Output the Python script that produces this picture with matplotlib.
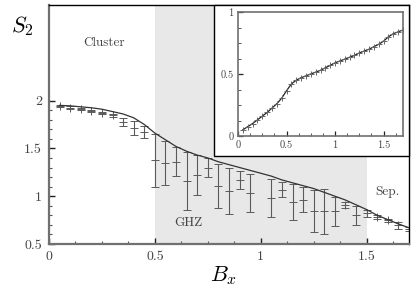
import numpy as np
import matplotlib
matplotlib.use('Agg')
from matplotlib import pyplot as plt
from matplotlib.ticker import MultipleLocator
from matplotlib.patches import Rectangle

plt.rcParams['font.family'] = ['cmr10', 'DejaVu Serif']
plt.rcParams['mathtext.fontset'] = 'cm'
plt.rcParams['axes.formatter.use_mathtext'] = True

# main panel: simulated points with error bars
bx_pts = [0.05, 0.1, 0.15, 0.2, 0.25, 0.3, 0.35, 0.4, 0.45, 0.5,
          0.55, 0.6, 0.65, 0.7, 0.75, 0.8, 0.85, 0.9, 0.95,
          1.05, 1.1, 1.15, 1.2, 1.25, 1.3, 1.35, 1.4, 1.45, 1.5,
          1.55, 1.6, 1.65, 1.7]
s2_pts = [1.94, 1.925, 1.91, 1.895, 1.87, 1.845, 1.775, 1.715, 1.67, 1.375,
          1.35, 1.36, 1.16, 1.225, 1.30, 1.11, 1.055, 1.17, 1.035,
          0.98, 1.07, 0.94, 0.965, 0.85, 0.84, 0.84, 0.905, 0.80, 0.82,
          0.785, 0.75, 0.695, 0.66]
s2_err = [0.01, 0.015, 0.01, 0.01, 0.015, 0.02, 0.045, 0.07, 0.06, 0.28,
          0.23, 0.15, 0.30, 0.21, 0.10, 0.23, 0.24, 0.09, 0.20,
          0.20, 0.08, 0.19, 0.13, 0.22, 0.24, 0.15, 0.03, 0.10, 0.04,
          0.02, 0.015, 0.035, 0.02]

# main panel: exact curve
bx_line = [0.05, 0.1, 0.15, 0.2, 0.25, 0.3, 0.35, 0.4, 0.45, 0.5,
           0.55, 0.6, 0.65, 0.7, 0.75, 0.8, 0.85, 0.9, 0.95, 1.0,
           1.05, 1.1, 1.15, 1.2, 1.25, 1.3, 1.35, 1.4, 1.45, 1.5,
           1.55, 1.6, 1.65, 1.7]
s2_line = [1.95, 1.945, 1.935, 1.925, 1.91, 1.885, 1.86, 1.82, 1.75, 1.66,
           1.59, 1.52, 1.47, 1.43, 1.40, 1.36, 1.33, 1.30, 1.27, 1.24,
           1.21, 1.17, 1.14, 1.11, 1.08, 1.04, 1.00, 0.96, 0.91, 0.86,
           0.80, 0.755, 0.71, 0.67]

# inset
inset_y = [0.05, 0.075, 0.10, 0.13, 0.16, 0.19, 0.225, 0.26, 0.305, 0.365,
           0.42, 0.45, 0.47, 0.485, 0.50, 0.515, 0.53, 0.55, 0.57, 0.59,
           0.605, 0.62, 0.635, 0.65, 0.67, 0.685, 0.70, 0.72, 0.74, 0.765,
           0.80, 0.825, 0.84, 0.855]

txt = '#444444'
spine_gray = '#707070'

fig = plt.figure(figsize=(4.15, 2.93), dpi=100)
ax = fig.add_axes([49 / 415, 1 - 244 / 293, 360 / 415, 239 / 293])

ax.axvspan(0.5, 1.5, color='#e8e8e8', lw=0, zorder=0)
ax.plot(bx_line, s2_line, color='#333333', lw=0.9, zorder=3)
ax.errorbar(bx_pts, s2_pts, yerr=s2_err, fmt='+', color='#5a5a5a',
            ms=6, mew=0.7, elinewidth=0.8, capsize=3, capthick=0.8, zorder=2)

ax.set_xlim(0, 1.7)
ax.set_ylim(0.5, 3.0)
ax.set_xticks([0, 0.5, 1, 1.5])
ax.set_xticklabels(['0', '0.5', '1', '1.5'])
ax.set_yticks([0.5, 1, 1.5, 2])
ax.set_yticklabels(['0.5', '1', '1.5', '2'])
ax.xaxis.set_minor_locator(MultipleLocator(0.125))
ax.set_yticks(np.arange(0.6, 2.05, 0.1), minor=True)
ax.tick_params(which='major', direction='in', length=4, width=1.0, color='#222222',
               labelsize=10, labelcolor=txt, top=False, right=False, pad=5)
ax.tick_params(which='minor', direction='in', length=2.2, width=0.8, color='#555555',
               top=False, right=False)
for s in ['left', 'bottom']:
    ax.spines[s].set_color(spine_gray)
    ax.spines[s].set_linewidth(1.6)
for s in ['top', 'right']:
    ax.spines[s].set_color('black')
    ax.spines[s].set_linewidth(1.0)

ax.text(0.26, 2.6, 'Cluster', fontsize=9.5, color=txt, ha='center', va='center')
ax.text(0.656, 0.72, 'GHZ', fontsize=9.5, color=txt, ha='center', va='center')
ax.text(1.6, 1.045, 'Sep.', fontsize=9.5, color=txt, ha='center', va='center')

fig.text(22 / 415, 1 - 26 / 293, r'$S_2$', fontsize=16, ha='center', va='center')
fig.text(224 / 415, 1 - 276 / 293, r'$B_x$', fontsize=16, ha='center', va='center')

# inset frame
fig.patches.append(Rectangle((214 / 415, 1 - 156 / 293), 195 / 415, 151 / 293,
                             transform=fig.transFigure, facecolor='white',
                             edgecolor='black', lw=1.0, zorder=5))
ins = fig.add_axes([238 / 415, 1 - 136 / 293, 165 / 415, 124 / 293], zorder=6)
ins.plot(bx_line, inset_y, color='#222222', lw=0.9)
ins.plot(bx_line, inset_y, '+', color='#666666', ms=5, mew=0.7)
ins.set_xlim(0, 1.7)
ins.set_ylim(0, 1)
ins.set_xticks([0, 0.5, 1, 1.5])
ins.set_xticklabels(['0', '0.5', '1', '1.5'])
ins.set_yticks([0, 0.5, 1])
ins.set_yticklabels(['0', '0.5', '1'])
ins.xaxis.set_minor_locator(MultipleLocator(0.125))
ins.yaxis.set_minor_locator(MultipleLocator(0.125))
ins.tick_params(which='major', direction='in', length=3.5, width=0.9, color='#222222',
                labelsize=7.5, labelcolor=txt, top=False, right=False, pad=3)
ins.tick_params(which='minor', direction='in', length=2, width=0.7, color='#555555',
                top=False, right=False)
for s in ins.spines.values():
    s.set_color(spine_gray)
    s.set_linewidth(1.2)

fig.savefig('out.png', dpi=100)
